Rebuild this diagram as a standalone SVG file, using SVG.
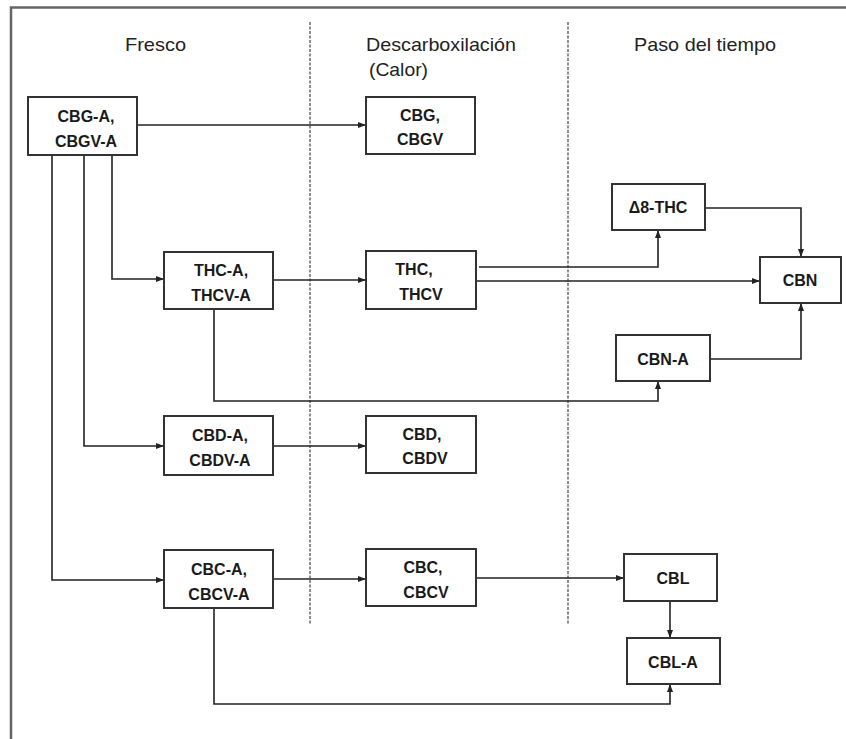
<svg xmlns="http://www.w3.org/2000/svg" width="846" height="739" viewBox="0 0 846 739">
<style>
.frame{fill:none;stroke:#666;stroke-width:2.5}
.div{stroke:#444;stroke-width:1.2;stroke-dasharray:3,1.5;fill:none}
.box{fill:#fff;stroke:#333;stroke-width:2}
.lbl{font-family:"Liberation Sans",Arial,sans-serif;font-size:16px;font-weight:bold;fill:#1a1a1a;text-anchor:middle}
.hdr{font-family:"Liberation Sans",Arial,sans-serif;font-size:19px;fill:#222}
.con{fill:none;stroke:#222;stroke-width:1.6}
</style>
<defs>
<marker id="ah" viewBox="0 0 8 6" refX="8" refY="3" markerWidth="8" markerHeight="6" markerUnits="userSpaceOnUse" orient="auto">
<path d="M0,0 L8,3 L0,6 z" fill="#222"/>
</marker>
</defs>
<rect width="846" height="739" fill="#fff"/>
<path class="frame" d="M11,739 V7.5 H846"/>
<line class="div" x1="310" y1="22" x2="310" y2="624"/>
<line class="div" x1="568" y1="22" x2="568" y2="624"/>
<text class="hdr" x="125" y="51" textLength="61" lengthAdjust="spacingAndGlyphs">Fresco</text>
<text class="hdr" x="366" y="51" textLength="150" lengthAdjust="spacingAndGlyphs">Descarboxilación</text>
<text class="hdr" x="369" y="76" textLength="59" lengthAdjust="spacingAndGlyphs">(Calor)</text>
<text class="hdr" x="634" y="51" textLength="142" lengthAdjust="spacingAndGlyphs">Paso del tiempo</text>
<g id="connectors">
<path class="con" d="M137,125 H366" marker-end="url(#ah)"/>
<path class="con" d="M112,155 V279 H164" marker-end="url(#ah)"/>
<path class="con" d="M84,155 V446 H164" marker-end="url(#ah)"/>
<path class="con" d="M52,155 V580 H164" marker-end="url(#ah)"/>
<path class="con" d="M273,280 H366" marker-end="url(#ah)"/>
<path class="con" d="M273,446 H366" marker-end="url(#ah)"/>
<path class="con" d="M273,579 H366" marker-end="url(#ah)"/>
<path class="con" d="M479,267 H658 V230" marker-end="url(#ah)"/>
<path class="con" d="M476,281 H760" marker-end="url(#ah)"/>
<path class="con" d="M705,208 H801 V257" marker-end="url(#ah)"/>
<path class="con" d="M710,359 H801 V303" marker-end="url(#ah)"/>
<path class="con" d="M214,309 V401 H658 V381" marker-end="url(#ah)"/>
<path class="con" d="M476,578 H624" marker-end="url(#ah)"/>
<path class="con" d="M670,601 V638" marker-end="url(#ah)"/>
<path class="con" d="M214,608 V704 H670 V684" marker-end="url(#ah)"/>
</g>
<g id="cbga"><rect class="box" x="28" y="97" width="109" height="58"/><text class="lbl" x="86" y="122">CBG-A,</text><text class="lbl" x="86" y="147">CBGV-A</text></g>
<g id="cbg"><rect class="box" x="366" y="97" width="109" height="57"/><text class="lbl" x="420" y="121">CBG,</text><text class="lbl" x="420" y="145">CBGV</text></g>
<g id="thca"><rect class="box" x="164" y="252" width="109" height="57"/><text class="lbl" x="221" y="276">THC-A,</text><text class="lbl" x="221" y="301">THCV-A</text></g>
<g id="thc"><rect class="box" x="366" y="251" width="110" height="58"/><text class="lbl" x="414" y="275">THC,</text><text class="lbl" x="421" y="300">THCV</text></g>
<g id="d8thc"><rect class="box" x="612" y="184" width="93" height="46"/><text class="lbl" x="658" y="213">Δ8-THC</text></g>
<g id="cbn"><rect class="box" x="760" y="257" width="81" height="46"/><text class="lbl" x="800" y="286">CBN</text></g>
<g id="cbna"><rect class="box" x="616" y="335" width="94" height="46"/><text class="lbl" x="663" y="365">CBN-A</text></g>
<g id="cbda"><rect class="box" x="164" y="416" width="109" height="59"/><text class="lbl" x="220" y="441">CBD-A,</text><text class="lbl" x="220" y="466">CBDV-A</text></g>
<g id="cbd"><rect class="box" x="366" y="416" width="110" height="57"/><text class="lbl" x="422" y="440">CBD,</text><text class="lbl" x="425" y="464">CBDV</text></g>
<g id="cbca"><rect class="box" x="164" y="550" width="109" height="58"/><text class="lbl" x="219" y="575">CBC-A,</text><text class="lbl" x="219" y="600">CBCV-A</text></g>
<g id="cbc"><rect class="box" x="366" y="549" width="110" height="57"/><text class="lbl" x="423" y="573">CBC,</text><text class="lbl" x="426" y="598">CBCV</text></g>
<g id="cbl"><rect class="box" x="624" y="554" width="93" height="47"/><text class="lbl" x="673" y="584">CBL</text></g>
<g id="cbla"><rect class="box" x="627" y="638" width="93" height="46"/><text class="lbl" x="673" y="668">CBL-A</text></g>
</svg>
